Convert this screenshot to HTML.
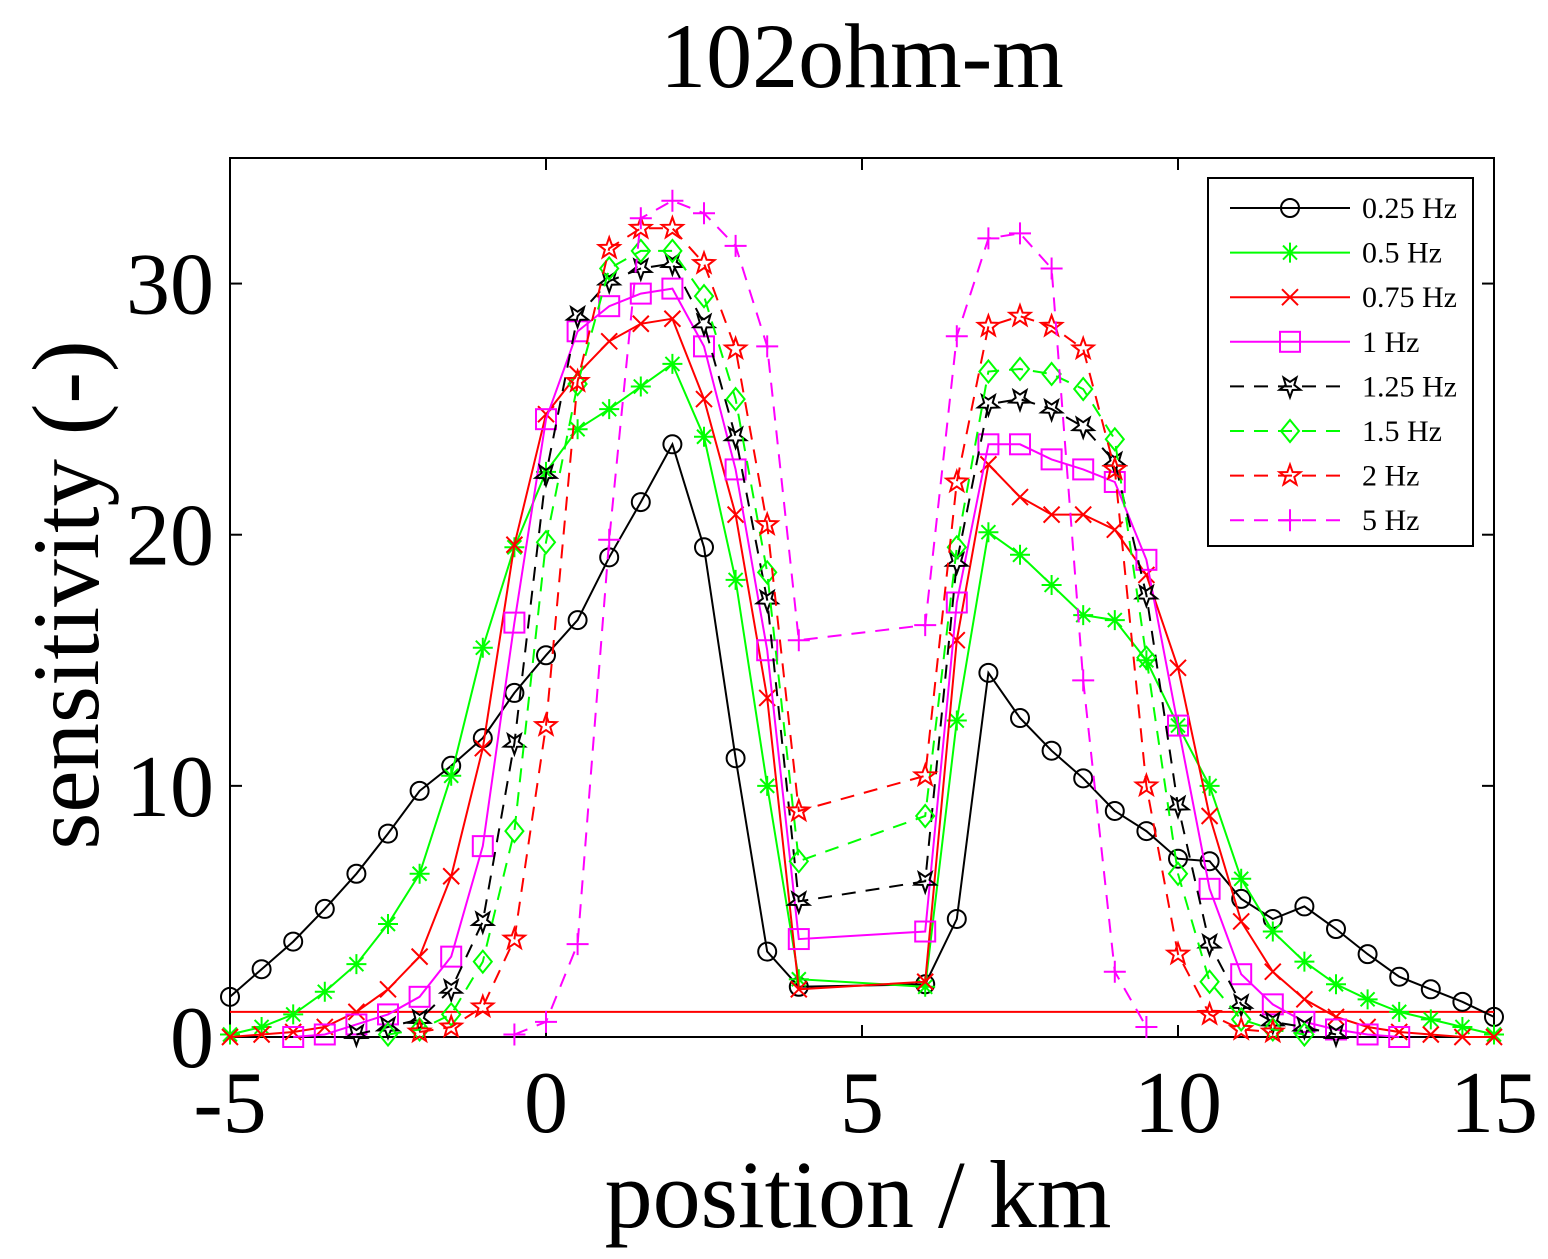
<!DOCTYPE html>
<html><head><meta charset="utf-8"><style>
body{margin:0;background:#fff}
svg{display:block}
text{font-family:"Liberation Serif",serif}
</style></head><body>
<svg id="chart" width="1548" height="1259" viewBox="0 0 1548 1259"></svg>
<script>
const xCats = [-5,-4.5,-4,-3.5,-3,-2.5,-2,-1.5,-1,-0.5,0,0.5,1,1.5,2,2.5,3,3.5,4,6,6.5,7,7.5,8,8.5,9,9.5,10,10.5,11,11.5,12,12.5,13,13.5,14,14.5,15];
const s025 = [1.6,2.7,3.8,5.1,6.5,8.1,9.8,10.8,11.9,13.7,15.2,16.6,19.1,21.3,23.6,19.5,11.1,3.4,2.0,2.1,4.7,14.5,12.7,11.4,10.3,9.0,8.2,7.1,7.0,5.5,4.7,5.2,4.3,3.3,2.4,1.9,1.4,0.8];
const s05 = [0.1,0.4,0.9,1.8,2.9,4.5,6.5,10.4,15.5,19.5,22.5,24.2,25.0,25.9,26.8,23.9,18.2,10.0,2.3,2.0,12.6,20.1,19.2,18.0,16.8,16.6,15.0,12.4,10.0,6.3,4.2,3.0,2.1,1.5,1.0,0.7,0.4,0.1];
const s075 = [0,0.1,0.2,0.4,1.0,1.9,3.2,6.4,11.5,19.6,24.8,26.4,27.7,28.4,28.6,25.4,20.8,13.5,1.9,2.2,15.8,22.8,21.5,20.8,20.8,20.2,18.4,14.7,8.8,4.6,2.6,1.5,0.8,0.4,0.2,0.1,0,0];
const s1 = [null,null,0,0.1,0.5,0.9,1.6,3.2,7.6,16.5,24.6,28.1,29.1,29.6,29.8,27.5,22.6,15.4,3.9,4.2,17.3,23.6,23.6,23.0,22.6,22.1,19.0,12.4,5.9,2.5,1.3,0.6,0.3,0.1,0,null,null,null];
const s125 = [null,null,null,null,0.1,0.4,0.7,1.9,4.6,11.7,22.4,28.7,30.1,30.6,30.8,28.4,23.9,17.4,5.4,6.2,18.9,25.2,25.4,25.0,24.3,22.9,17.6,9.2,3.7,1.3,0.6,0.4,0.1,null,null,null,null,null];
const s15 = [null,null,null,null,null,0.1,0.3,0.9,3.0,8.2,19.7,26.0,30.6,31.3,31.3,29.5,25.4,18.5,7.0,8.8,19.5,26.5,26.6,26.4,25.8,23.8,15.1,6.5,2.2,0.7,0.3,0.1,null,null,null,null,null,null];
const s2 = [null,null,null,null,null,null,0.2,0.4,1.2,3.9,12.4,26.1,31.4,32.2,32.2,30.8,27.4,20.4,9.0,10.4,22.1,28.3,28.7,28.3,27.4,22.6,10.0,3.3,0.9,0.3,0.2,null,null,null,null,null,null,null];
const s5 = [null,null,null,null,null,null,null,null,null,0.1,0.6,3.7,19.8,32.6,33.3,32.8,31.5,27.5,15.8,16.4,27.9,31.8,32.0,30.6,14.2,2.6,0.4,null,null,null,null,null,null,null,null,null,null,null];
const seriesNames = ["0.25 Hz","0.5 Hz","0.75 Hz","1 Hz","1.25 Hz","1.5 Hz","2 Hz","5 Hz"];
const xTicks = [-5,0,5,10,15];
const yTicks = [0,10,20,30];
const refLevel = [1];

const NS="http://www.w3.org/2000/svg";
const svg=document.getElementById('chart');
const L=230,R=1494,T=158,B=1037;
const xs=v=>L+(v+5)/20*(R-L);
const ys=v=>B-v/35*(B-T);
function el(tag,attrs,parent){const e=document.createElementNS(NS,tag);for(const k in attrs)e.setAttribute(k,attrs[k]);(parent||svg).appendChild(e);return e;}

const series=[
 {d:s025,c:"#000",dash:null,m:"circle"},
 {d:s05,c:"#00ff00",dash:null,m:"asterisk"},
 {d:s075,c:"#ff0000",dash:null,m:"x"},
 {d:s1,c:"#ff00ff",dash:null,m:"square"},
 {d:s125,c:"#000",dash:"14,10",m:"pent"},
 {d:s15,c:"#00ff00",dash:"14,10",m:"diamond"},
 {d:s2,c:"#ff0000",dash:"14,10",m:"star"},
 {d:s5,c:"#ff00ff",dash:"14,10",m:"plus"}
];
function marker(g,type,x,y,c){
 const a={stroke:c,'stroke-width':2,fill:'none'};
 let e;
 if(type==="circle"){e=el('circle',Object.assign({cx:x,cy:y,r:9},a),g);}
 else if(type==="square"){e=el('rect',Object.assign({x:x-10,y:y-10,width:20,height:20},a),g);}
 else if(type==="diamond"){e=el('path',Object.assign({d:`M${x} ${y-11}L${x+9} ${y}L${x} ${y+11}L${x-9} ${y}Z`},a),g);}
 else if(type==="x"){e=el('path',Object.assign({d:`M${x-8} ${y-8}L${x+8} ${y+8}M${x-8} ${y+8}L${x+8} ${y-8}`},a),g);}
 else if(type==="plus"){e=el('path',Object.assign({d:`M${x-11} ${y}L${x+11} ${y}M${x} ${y-11}L${x} ${y+11}`},a),g);}
 else if(type==="asterisk"){e=el('path',Object.assign({d:`M${x-10} ${y}L${x+10} ${y}M${x} ${y-10}L${x} ${y+10}M${x-7} ${y-7}L${x+7} ${y+7}M${x-7} ${y+7}L${x+7} ${y-7}`},a),g);}
 else { let p=[];for(let i=0;i<10;i++){const r=i%2?4.5:11;const ang=-Math.PI/2+i*Math.PI/5+(type==="pent"?Math.PI:0);p.push((x+r*Math.cos(ang)).toFixed(1)+","+(y+r*Math.sin(ang)).toFixed(1));}
   e=el('polygon',Object.assign({points:p.join(" ")},a),g);}
 return e;
}

const box=el('rect',{x:L,y:T,width:R-L,height:B-T,fill:'none',stroke:'#000','stroke-width':2});



xTicks.forEach(v=>{
 const x=xs(v);
 el('line',{x1:x,y1:B,x2:x,y2:B-12,stroke:'#000','stroke-width':2});
 el('line',{x1:x,y1:T,x2:x,y2:T+12,stroke:'#000','stroke-width':2});
 const t=el('text',{x:x,y:1132,'font-size':88,'text-anchor':'middle'});
 t.textContent=v;
 
 
});
yTicks.forEach(v=>{
 const y=ys(v);
 el('line',{x1:L,y1:y,x2:L+12,y2:y,stroke:'#000','stroke-width':2});
 el('line',{x1:R,y1:y,x2:R-12,y2:y,stroke:'#000','stroke-width':2});
 const t=el('text',{x:214,y:y+30,'font-size':88,'text-anchor':'end'});
 t.textContent=v;
 
 
});

refLevel.forEach(v=>{
 const ln=el('line',{x1:L,y1:ys(v),x2:R,y2:ys(v),stroke:'#ff0000','stroke-width':2});
 
 
});

series.forEach((s,i)=>{
 const g=el('g',{});
 
 
 const pts=[];
 s.d.forEach((v,j)=>{ if(v!==null) pts.push(xs(xCats[j]).toFixed(1)+","+ys(v).toFixed(1)); });
 const pl=el('polyline',{points:pts.join(" "),fill:'none',stroke:s.c,'stroke-width':2},g);
 if(s.dash)pl.setAttribute('stroke-dasharray',s.dash);
 s.d.forEach((v,j)=>{
  if(v===null) return;
  const m=marker(g,s.m,xs(xCats[j]),ys(v),s.c);
  
  
 });
});

const lg=el('g',{});


el('rect',{x:1208,y:178,width:265,height:368,fill:'#fff',stroke:'#000','stroke-width':2},lg);
series.forEach((s,i)=>{
 const y=208+i*44.6;
 const e=el('g',{},lg);
 
 
 const ln=el('line',{x1:1230,y1:y,x2:1350,y2:y,stroke:s.c,'stroke-width':2},e);
 if(s.dash)ln.setAttribute('stroke-dasharray',s.dash);
 marker(e,s.m,1290,y,s.c);
 const t=el('text',{x:1362,y:y+10,'font-size':30},e);
 t.textContent=seriesNames[i];
});

const title=el('text',{x:862,y:87,'font-size':92,'text-anchor':'middle'});
title.textContent="102ohm-m";


const xl=el('text',{x:858,y:1227,'font-size':96,'text-anchor':'middle'});
xl.textContent="position / km";


const yl=el('text',{x:0,y:0,'font-size':95,'text-anchor':'middle',transform:'translate(98,595) rotate(-90)'});
yl.textContent="sensitivity (-)";


</script>
</body></html>
